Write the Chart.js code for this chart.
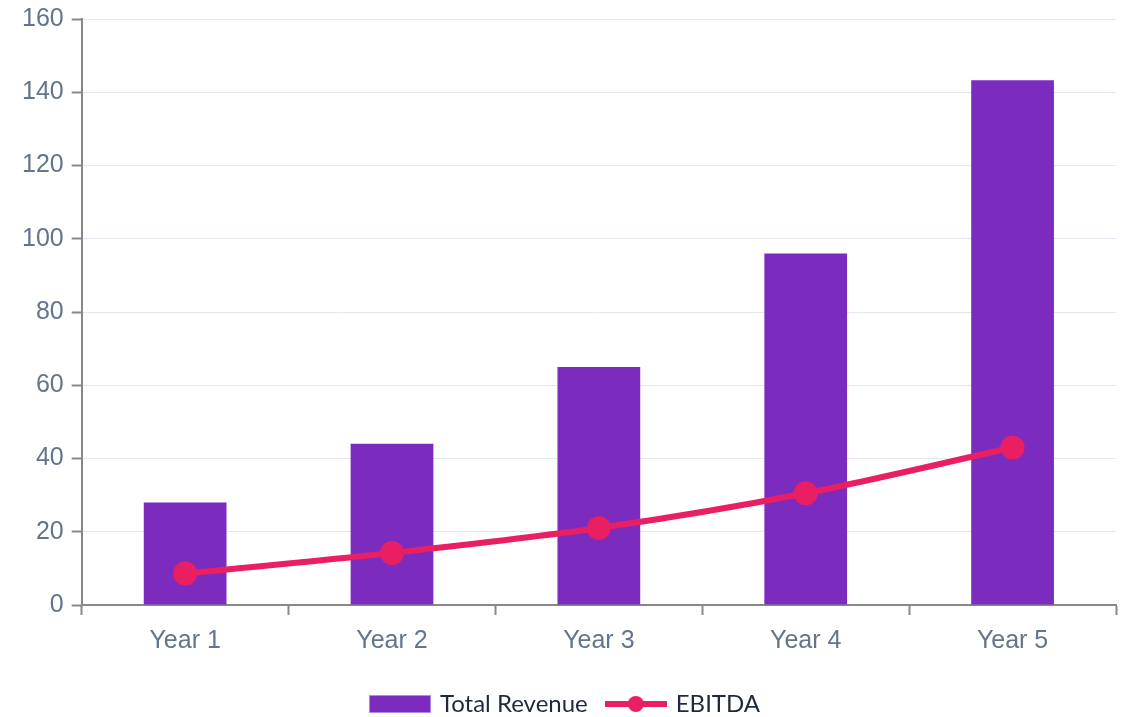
<!DOCTYPE html>
<html>
<head>
<meta charset="utf-8">
<script src="https://cdn.jsdelivr.net/npm/chart.js@4.4.1/dist/chart.umd.min.js"></script>
<style>
  html, body { margin: 0; padding: 0; background: #fff; }
  canvas { display: block; }
</style>
</head>
<body>
<canvas id="myChart" width="1128" height="717"></canvas>
<script>
const years = ['Year 1', 'Year 2', 'Year 3', 'Year 4', 'Year 5'];
const totalRevenue = [28, 44, 65, 96, 143.3];
const ebitda = [8.6, 14.2, 21, 30.5, 43];
const yTicks = [0, 20, 40, 60, 80, 100, 120, 140, 160];

const purple = '#7B2CBF';
const pink = '#E91E63';

// legend swatches drawn on small canvases
function barSwatch() {
    const c = document.createElement('canvas');
    c.width = 62; c.height = 18;
    const g = c.getContext('2d');
    g.fillStyle = '#b48ae0';
    g.fillRect(0, 0, 62, 18);
    g.fillStyle = purple;
    g.fillRect(1, 1, 60, 16);
    return c;
}

function lineSwatch() {
    const c = document.createElement('canvas');
    c.width = 62; c.height = 18;
    const g = c.getContext('2d');
    g.fillStyle = pink;
    g.fillRect(0, 6, 62, 6);
    g.beginPath();
    g.arc(31, 9, 8, 0, Math.PI * 2);
    g.fill();
    return c;
}

// pull the legend a bit closer to the bottom edge
const legendShift = {
    id: 'legendShift',
    afterInit(chart) {
        const fit = chart.legend.fit;
        chart.legend.fit = function () {
            fit.call(this);
            this.height -= 9;
        };
    },
};

const tickFont = { family: "'Liberation Sans', Arial, sans-serif", size: 25 };

const ctx = document.getElementById('myChart').getContext('2d');
const myChart = new Chart(ctx, {
    type: 'bar',
    data: {
        labels: years,
        datasets: [
            {
                type: 'bar',
                label: 'Total Revenue',
                data: totalRevenue,
                backgroundColor: purple,
                barPercentage: 0.5,
                categoryPercentage: 0.8,
                order: 1,
            },
            {
                type: 'line',
                label: 'EBITDA',
                data: ebitda,
                borderColor: pink,
                backgroundColor: pink,
                borderWidth: 6,
                pointRadius: 12,
                pointBorderWidth: 0,
                pointBackgroundColor: pink,
                tension: 0.3,
                order: 0,
            },
        ],
    },
    plugins: [legendShift],
    options: {
        responsive: false,
        animation: false,
        devicePixelRatio: 1,
        layout: { padding: { top: 0, right: 10, left: 14, bottom: 0 } },
        scales: {
            x: {
                afterFit: (scale) => { scale.height += 5; },
                grid: {
                    drawOnChartArea: false,
                    tickColor: '#888888',
                    tickWidth: 2,
                    tickLength: 10,
                    offset: true,
                },
                border: { color: '#888888', width: 2 },
                ticks: { color: '#64748b', font: tickFont, padding: 11 },
            },
            y: {
                min: 0,
                max: 160,
                afterBuildTicks: (axis) => {
                    axis.ticks = yTicks.map(v => ({ value: v }));
                },
                afterFit: (scale) => { scale.paddingTop = Math.max(0, scale.paddingTop - 4); },
                grid: {
                    color: '#e2e8f0',
                    lineWidth: 1,
                    tickColor: '#888888',
                    tickWidth: 2,
                    tickLength: 10,
                },
                border: { color: '#888888', width: 2 },
                ticks: { color: '#64748b', font: tickFont, padding: 8 },
            },
        },
        plugins: {
            tooltip: { enabled: false },
            legend: {
                position: 'bottom',
                labels: {
                    usePointStyle: true,
                    pointStyleWidth: 56,
                    boxHeight: 18,
                    padding: 20,
                    color: '#1e293b',
                    font: { family: 'Lato, sans-serif', size: 24 },
                    generateLabels: () => [
                        { text: 'Total Revenue', pointStyle: barSwatch(), datasetIndex: 0, fontColor: '#1e293b', lineWidth: 0 },
                        { text: 'EBITDA', pointStyle: lineSwatch(), datasetIndex: 1, fontColor: '#1e293b', lineWidth: 0 },
                    ],
                },
            },
        },
    },
});
</script>
</body>
</html>
